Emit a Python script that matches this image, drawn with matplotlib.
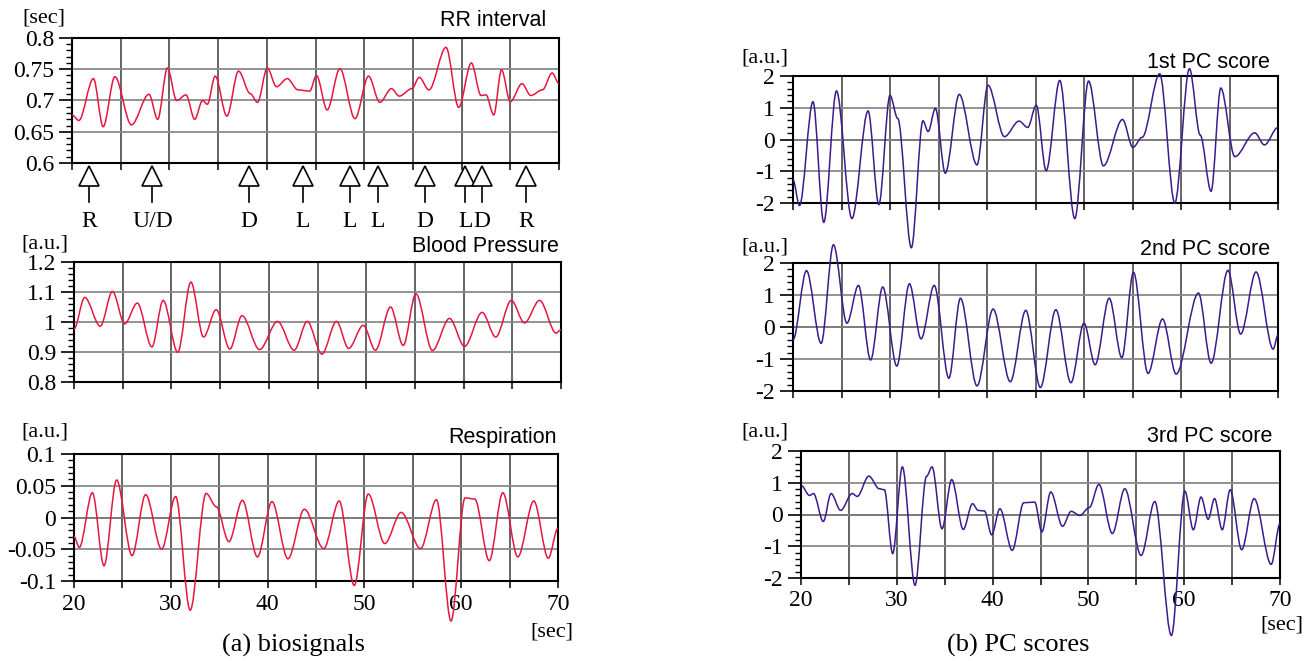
import numpy as np
import matplotlib.pyplot as plt
from matplotlib.path import Path
from matplotlib.patches import PathPatch
from matplotlib.transforms import blended_transform_factory
from matplotlib.ticker import MultipleLocator, FuncFormatter

# extrema: time [sec], value
rr_t = [20.0, 20.7, 22.2, 23.2, 24.4, 26.1, 27.9, 28.8, 29.8, 30.75, 31.7, 32.6, 33.4, 33.9,
        34.7, 35.9, 37.1, 38.3, 39.05, 40.05, 41.0, 42.1, 43.2, 44.4, 45.1, 46.2, 47.5, 49.05,
        50.45, 51.6, 52.8, 53.6, 54.9, 55.65, 56.65, 58.4, 59.7, 61.0, 62.0, 62.5, 63.3, 64.1,
        65.0, 66.2, 67.1, 68.3, 69.3, 70.0]
rr_v = [0.677, 0.668, 0.735, 0.658, 0.738, 0.661, 0.710, 0.670, 0.752, 0.700, 0.709, 0.670,
        0.700, 0.694, 0.739, 0.675, 0.747, 0.711, 0.697, 0.752, 0.722, 0.735, 0.717, 0.715,
        0.740, 0.685, 0.751, 0.671, 0.739, 0.697, 0.719, 0.707, 0.719, 0.737, 0.717, 0.785,
        0.689, 0.760, 0.708, 0.709, 0.677, 0.749, 0.698, 0.727, 0.708, 0.717, 0.744, 0.727]

bp_t = [20.0, 21.1, 22.7, 23.95, 25.2, 26.5, 28.0, 29.15, 30.65, 32.0, 33.3, 34.6, 36.0, 37.25,
        39.05, 40.9, 42.6, 43.95, 45.45, 46.95, 48.2, 49.7, 50.95, 52.5, 53.8, 55.1, 56.8, 58.55,
        60.1, 61.9, 63.3, 64.9, 66.25, 67.8, 69.5, 70.0]
bp_v = [0.977, 1.082, 0.986, 1.102, 0.994, 1.063, 0.917, 1.072, 0.899, 1.133, 0.950, 1.041,
        0.910, 1.021, 0.908, 1.002, 0.906, 1.002, 0.893, 1.002, 0.912, 0.989, 0.906, 1.050,
        0.922, 1.094, 0.905, 1.012, 0.919, 1.032, 0.950, 1.072, 0.997, 1.072, 0.963, 0.974]

resp_t = [20.0, 20.55, 21.9, 23.1, 24.4, 26.0, 27.4, 29.05, 30.5, 32.0, 33.65, 34.7, 36.0, 37.4,
          38.95, 40.45, 42.1, 43.8, 45.8, 47.4, 48.95, 50.4, 52.1, 53.8, 55.8, 57.45, 58.95,
          60.4, 61.4, 62.9, 64.3, 65.85, 67.5, 69.0, 70.0]
resp_v = [-0.030, -0.047, 0.039, -0.076, 0.059, -0.060, 0.036, -0.050, 0.033, -0.146, 0.038,
          0.017, -0.038, 0.027, -0.062, 0.025, -0.065, 0.013, -0.049, 0.026, -0.107, 0.037,
          -0.041, 0.008, -0.049, 0.028, -0.163, 0.031, 0.029, -0.068, 0.039, -0.062, 0.026,
          -0.064, -0.017]

pc1_t = [20.0, 20.67, 22.06, 23.17, 24.48, 26.07, 27.74, 28.85, 30.0, 30.8, 32.2, 33.4, 33.93,
         34.68, 35.7, 37.14, 38.97, 40.1, 41.8, 43.3, 44.2, 45.08, 46.1, 47.5, 49.05, 50.47,
         52.0, 53.97, 55.04, 56.0, 57.8, 59.36, 60.87, 61.98, 63.1, 64.1, 65.55, 67.6, 68.6, 70.0]
pc1_v = [-1.27, -2.08, 1.19, -2.61, 1.53, -2.49, 0.90, -2.05, 1.39, 0.66, -3.41, 0.59, 0.25,
         0.98, -1.06, 1.42, -0.80, 1.71, 0.09, 0.58, 0.38, 1.08, -0.98, 1.86, -2.49, 1.84,
         -0.83, 0.63, -0.25, 0.07, 2.07, -2.0, 2.23, 0.14, -1.63, 1.62, -0.54, 0.21, -0.17, 0.38]

pc2_t = [20.0, 21.39, 22.9, 24.17, 25.56, 26.75, 28.0, 29.25, 30.7, 32.0, 33.2, 34.56, 36.07,
         37.26, 38.97, 40.63, 42.4, 44.0, 45.5, 47.1, 48.65, 50.0, 51.15, 52.6, 53.9, 55.1,
         56.6, 58.1, 59.5, 61.8, 63.1, 64.84, 66.15, 67.74, 69.5, 70.0]
pc2_v = [-0.40, 1.76, -0.51, 2.57, 0.12, 1.30, -1.03, 1.25, -1.22, 1.35, -0.37, 1.30, -1.60,
         0.90, -1.84, 0.56, -1.71, 0.52, -1.89, 0.54, -1.74, 0.12, -1.18, 0.90, -0.96, 1.71,
         -1.45, 0.25, -1.47, 1.06, -1.13, 1.77, -0.22, 1.72, -0.69, -0.25]

pc3_t = [20.0, 20.9, 21.3, 22.33, 23.14, 24.14, 25.35, 25.87, 27.08, 28.17, 28.7, 29.57, 30.58,
         31.9, 33.1, 33.68, 34.72, 35.73, 36.94, 37.9, 38.5, 39.15, 39.9, 40.76, 42.05, 43.25,
         44.4, 45.14, 46.07, 47.3, 48.2, 49.1, 50.1, 51.1, 52.5, 53.8, 55.5, 56.93, 58.66,
         60.07, 60.95, 61.76, 62.5, 63.17, 63.97, 64.8, 66.0, 67.3, 69.08, 70.0]
pc3_v = [0.92, 0.60, 0.66, -0.22, 0.66, 0.13, 0.66, 0.57, 1.21, 0.81, 0.78, -1.23, 1.50,
         -2.23, 1.20, 1.50, -0.45, 1.10, -0.47, 0.34, 0.13, 0.11, -0.64, 0.18, -1.13, 0.37,
         0.39, -0.55, 0.71, -0.37, 0.10, -0.03, 0.22, 0.95, -0.60, 0.81, -1.29, 0.41, -3.81,
         0.74, -0.48, 0.55, -0.15, 0.50, -0.48, 0.78, -1.11, 0.50, -1.57, -0.29]

# arrows under the RR interval plot
event_t = [21.74, 28.26, 38.18, 43.72, 48.54, 51.39, 56.25, 60.4, 62.06, 66.6]
event_lbl = ['R', 'U/D', 'D', 'L', 'L', 'L', 'D', 'L', 'D', 'R']

RED = '#e5173f'
PURPLE = '#3d1a8e'
SERIF = 'Liberation Serif'
SANS = 'Liberation Sans'

W, H = 1314, 661
fig = plt.figure(figsize=(W / 100, H / 100), dpi=100)


def box(x0, x1, y0, y1):
    return [x0 / W, 1 - y1 / H, (x1 - x0) / W, (y1 - y0) / H]


def curve(t, v):
    verts = [(t[0], v[0])]
    codes = [Path.MOVETO]
    for i in range(len(t) - 1):
        d = (t[i + 1] - t[i]) / 3
        verts += [(t[i] + d, v[i]), (t[i + 1] - d, v[i + 1]), (t[i + 1], v[i + 1])]
        codes += [Path.CURVE4] * 3
    return Path(verts, codes)


def fmt(x, pos):
    x = round(x, 4)
    if x == 0:
        return '0'
    return '%g' % x


def panel(rect, ylim, major, minor, t, v, color, title, title_xy, unit_xy, xlabels=False):
    ax = fig.add_axes(box(*rect))
    ax.set_xlim(20, 70)
    ax.set_ylim(*ylim)
    ax.set_xticks(np.arange(20, 71, 5))
    if xlabels:
        ax.set_xticklabels([str(int(x)) if x % 10 == 0 else '' for x in np.arange(20, 71, 5)])
    else:
        ax.set_xticklabels([])
    ax.yaxis.set_major_locator(MultipleLocator(major))
    ax.yaxis.set_minor_locator(MultipleLocator(minor))
    ax.yaxis.set_major_formatter(FuncFormatter(fmt))
    ax.grid(axis='y', color='#8a8a8a', lw=1.3)
    ax.grid(axis='x', color='#3a3a3a', lw=1.1)
    if ylim[0] < 0 < ylim[1]:
        ax.axhline(0, color='black', lw=1.4, zorder=1.5)
    for s in ax.spines.values():
        s.set_linewidth(1.5)
    ax.tick_params(axis='y', which='major', direction='out', length=9.6, width=1.2, pad=3.4,
                   labelsize=17)
    ax.tick_params(axis='y', which='minor', direction='out', length=4, width=1)
    ax.tick_params(axis='x', direction='out', length=5, width=1.1, pad=4, labelsize=17)
    for lab in ax.get_xticklabels() + ax.get_yticklabels():
        lab.set_family(SERIF)
    ax.add_patch(PathPatch(curve(t, v), fill=False, edgecolor=color, lw=1.1,
                           clip_on=False, zorder=3))
    fig.text(title_xy[0] / W, 1 - title_xy[1] / H, title, ha='right', va='center',
             family=SANS, fontsize=15.5)
    fig.text(unit_xy[0] / W, 1 - unit_xy[1] / H, unit_xy[2], ha='left', va='center',
             family=SERIF, fontsize=16)
    return ax


ax_rr = panel((72, 559, 38, 163), (0.6, 0.8), 0.05, 0.01, rr_t, rr_v, RED,
              'RR interval', (546, 20), (22, 18, '[sec]'))
panel((74, 561, 262, 382), (0.8, 1.2), 0.1, 0.02, bp_t, bp_v, RED,
      'Blood Pressure', (559, 246), (21, 244, '[a.u.]'))
panel((74, 558, 454, 581), (-0.1, 0.1), 0.05, 0.01, resp_t, resp_v, RED,
      'Respiration', (557, 437), (21, 432, '[a.u.]'), xlabels=True)

panel((793, 1278, 76, 203), (-2, 2), 1, 0.2, pc1_t, pc1_v, PURPLE,
      '1st PC score', (1270, 63), (741, 58, '[a.u.]'))
panel((793, 1278, 263, 391), (-2, 2), 1, 0.2, pc2_t, pc2_v, PURPLE,
      '2nd PC score', (1270, 250), (741, 247, '[a.u.]'))
panel((801, 1280, 451, 578), (-2, 2), 1, 0.2, pc3_t, pc3_v, PURPLE,
      '3rd PC score', (1272, 437), (741, 432, '[a.u.]'), xlabels=True)

# event arrows: hollow triangle with a stem, label underneath
trans = blended_transform_factory(ax_rr.transData, ax_rr.transAxes)
for t, lbl in zip(event_t, event_lbl):
    ax_rr.plot([t, t], [-0.18, -0.31], color='black', lw=1.2, transform=trans, clip_on=False)
    ax_rr.plot([t], [-0.104], marker='^', ms=15, mfc='white', mec='black', mew=1.2,
               transform=trans, clip_on=False)
    ax_rr.text(t, -0.47, lbl, transform=trans, ha='center', va='center',
               family=SERIF, fontsize=17)

fig.text(552 / W, 1 - 632 / H, '[sec]', ha='center', va='center', family=SERIF, fontsize=16)
fig.text(1282 / W, 1 - 625 / H, '[sec]', ha='center', va='center', family=SERIF, fontsize=16)
fig.text(293 / W, 1 - 645 / H, '(a) biosignals', ha='center', va='center',
         family=SERIF, fontsize=19)
fig.text(1018 / W, 1 - 645 / H, '(b) PC scores', ha='center', va='center',
         family=SERIF, fontsize=19)

plt.savefig('out.png', dpi=100)
